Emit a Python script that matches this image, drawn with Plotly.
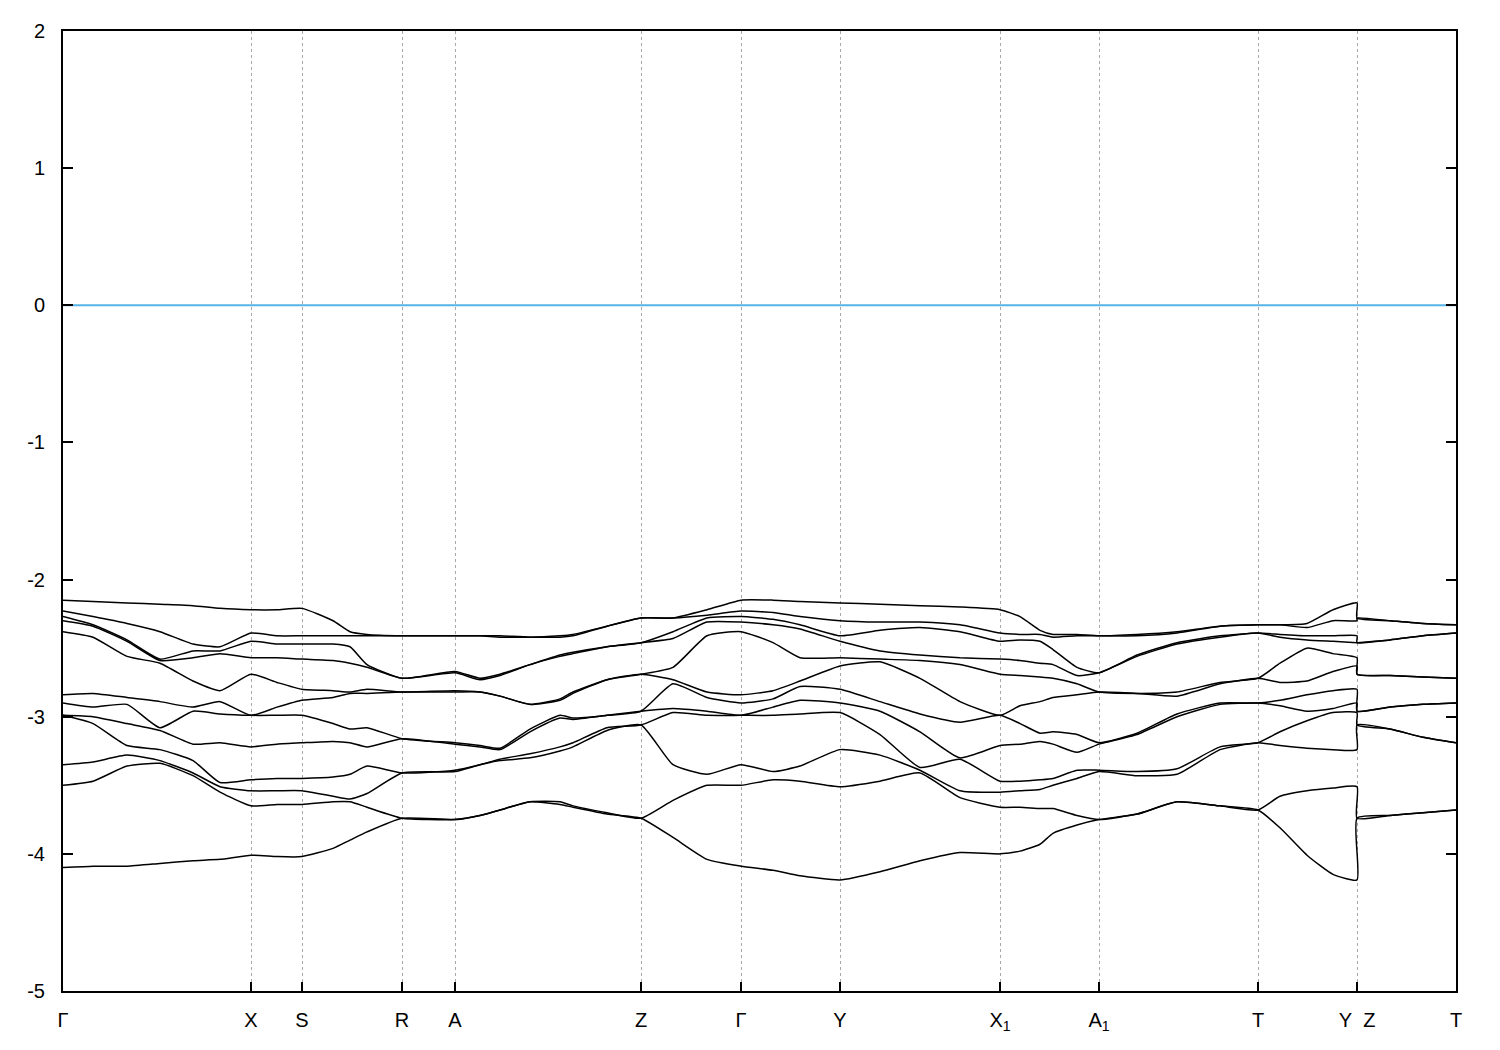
import plotly.graph_objects as go

# k-path coordinate of each sampled point (arbitrary path-length units)
k = [0.00, 0.30, 0.64, 0.97, 1.30, 1.57, 1.88, 2.14, 2.39, 2.70, 2.87, 3.04,
     3.39, 3.92, 4.17, 4.37, 4.67, 4.97, 5.10, 5.44, 5.78, 6.10, 6.44, 6.78,
     7.10, 7.37, 7.77, 8.17, 8.57, 8.97, 9.37, 9.57, 9.77, 9.90, 10.14, 10.36,
     10.74, 11.14, 11.57, 11.95, 12.17, 12.44, 12.70, 12.94, 12.94, 13.27,
     13.60, 13.93]

# energies (eV) at each sampled k, bands sorted from highest to lowest
energies = [
    [-2.15, -2.23, -2.27, -2.30, -2.38, -2.84, -2.90, -2.99, -2.99, -3.35, -3.50, -4.10],
    [-2.16, -2.27, -2.33, -2.34, -2.42, -2.83, -2.93, -3.00, -3.05, -3.33, -3.47, -4.09],
    [-2.17, -2.32, -2.44, -2.45, -2.56, -2.86, -2.91, -3.05, -3.21, -3.28, -3.36, -4.09],
    [-2.18, -2.38, -2.58, -2.59, -2.61, -2.89, -3.08, -3.10, -3.24, -3.32, -3.34, -4.07],
    [-2.19, -2.47, -2.52, -2.57, -2.74, -2.93, -2.96, -3.20, -3.32, -3.41, -3.43, -4.05],
    [-2.21, -2.49, -2.52, -2.54, -2.81, -2.89, -2.98, -3.19, -3.48, -3.51, -3.55, -4.04],
    [-2.22, -2.39, -2.45, -2.57, -2.69, -2.99, -2.99, -3.22, -3.46, -3.54, -3.65, -4.01],
    [-2.22, -2.41, -2.47, -2.57, -2.75, -2.93, -2.99, -3.20, -3.45, -3.54, -3.64, -4.02],
    [-2.21, -2.41, -2.47, -2.58, -2.80, -2.88, -2.99, -3.19, -3.45, -3.54, -3.64, -4.02],
    [-2.30, -2.41, -2.47, -2.59, -2.81, -2.86, -3.05, -3.18, -3.44, -3.58, -3.62, -3.96],
    [-2.38, -2.41, -2.49, -2.61, -2.82, -2.83, -3.09, -3.19, -3.42, -3.60, -3.62, -3.90],
    [-2.40, -2.41, -2.62, -2.64, -2.80, -2.83, -3.08, -3.22, -3.36, -3.56, -3.66, -3.84],
    [-2.41, -2.41, -2.72, -2.72, -2.82, -2.82, -3.16, -3.16, -3.41, -3.41, -3.74, -3.74],
    [-2.41, -2.41, -2.67, -2.68, -2.81, -2.82, -3.19, -3.20, -3.39, -3.40, -3.75, -3.75],
    [-2.41, -2.41, -2.72, -2.73, -2.82, -2.82, -3.21, -3.22, -3.35, -3.35, -3.72, -3.72],
    [-2.41, -2.42, -2.69, -2.70, -2.85, -2.85, -3.23, -3.24, -3.31, -3.32, -3.68, -3.68],
    [-2.42, -2.42, -2.62, -2.62, -2.91, -2.91, -3.09, -3.11, -3.27, -3.30, -3.62, -3.62],
    [-2.41, -2.42, -2.55, -2.56, -2.87, -2.88, -2.99, -3.01, -3.22, -3.25, -3.62, -3.64],
    [-2.40, -2.41, -2.53, -2.54, -2.82, -2.83, -3.01, -3.02, -3.19, -3.22, -3.65, -3.66],
    [-2.34, -2.34, -2.49, -2.49, -2.73, -2.73, -2.99, -2.99, -3.08, -3.10, -3.70, -3.71],
    [-2.28, -2.28, -2.46, -2.46, -2.69, -2.69, -2.96, -2.96, -3.06, -3.06, -3.74, -3.74],
    [-2.28, -2.28, -2.38, -2.43, -2.64, -2.73, -2.76, -2.94, -2.97, -3.35, -3.61, -3.88],
    [-2.22, -2.26, -2.28, -2.31, -2.41, -2.82, -2.86, -2.96, -2.99, -3.42, -3.50, -4.04],
    [-2.15, -2.23, -2.27, -2.31, -2.38, -2.84, -2.90, -2.99, -2.99, -3.35, -3.50, -4.09],
    [-2.15, -2.24, -2.29, -2.33, -2.46, -2.81, -2.87, -2.93, -2.99, -3.40, -3.46, -4.12],
    [-2.16, -2.27, -2.33, -2.36, -2.57, -2.74, -2.78, -2.88, -2.98, -3.36, -3.47, -4.16],
    [-2.17, -2.30, -2.41, -2.45, -2.57, -2.63, -2.80, -2.90, -2.97, -3.24, -3.51, -4.19],
    [-2.18, -2.31, -2.37, -2.52, -2.58, -2.60, -2.89, -2.96, -3.13, -3.28, -3.47, -4.13],
    [-2.19, -2.31, -2.35, -2.55, -2.59, -2.72, -2.98, -3.11, -3.37, -3.39, -3.41, -4.05],
    [-2.20, -2.33, -2.38, -2.57, -2.62, -2.89, -3.04, -3.30, -3.31, -3.54, -3.59, -3.99],
    [-2.22, -2.39, -2.45, -2.58, -2.69, -2.99, -2.99, -3.21, -3.47, -3.55, -3.66, -4.00],
    [-2.27, -2.40, -2.44, -2.59, -2.70, -2.92, -3.05, -3.20, -3.47, -3.54, -3.66, -3.98],
    [-2.37, -2.40, -2.45, -2.61, -2.71, -2.89, -3.12, -3.18, -3.46, -3.53, -3.67, -3.93],
    [-2.40, -2.42, -2.51, -2.62, -2.72, -2.86, -3.11, -3.20, -3.45, -3.50, -3.67, -3.85],
    [-2.40, -2.41, -2.64, -2.70, -2.76, -2.84, -3.13, -3.26, -3.39, -3.45, -3.72, -3.79],
    [-2.41, -2.41, -2.68, -2.68, -2.82, -2.82, -3.19, -3.20, -3.39, -3.40, -3.75, -3.75],
    [-2.40, -2.41, -2.55, -2.56, -2.83, -2.83, -3.12, -3.13, -3.40, -3.43, -3.71, -3.71],
    [-2.38, -2.39, -2.46, -2.47, -2.82, -2.85, -2.98, -3.00, -3.38, -3.42, -3.62, -3.62],
    [-2.34, -2.34, -2.41, -2.42, -2.75, -2.76, -2.90, -2.91, -3.22, -3.24, -3.65, -3.65],
    [-2.33, -2.33, -2.39, -2.39, -2.72, -2.72, -2.90, -2.90, -3.19, -3.19, -3.68, -3.68],
    [-2.33, -2.33, -2.40, -2.42, -2.61, -2.75, -2.88, -2.92, -3.11, -3.21, -3.58, -3.81],
    [-2.32, -2.35, -2.41, -2.44, -2.50, -2.74, -2.84, -2.96, -3.03, -3.23, -3.54, -4.01],
    [-2.22, -2.30, -2.41, -2.45, -2.54, -2.67, -2.81, -2.94, -2.97, -3.24, -3.52, -4.15],
    [-2.17, -2.30, -2.41, -2.46, -2.57, -2.63, -2.80, -2.90, -2.97, -3.24, -3.51, -4.19],
    [-2.28, -2.28, -2.46, -2.46, -2.69, -2.69, -2.96, -2.96, -3.06, -3.06, -3.74, -3.74],
    [-2.30, -2.30, -2.44, -2.44, -2.70, -2.70, -2.93, -2.93, -3.09, -3.09, -3.72, -3.72],
    [-2.32, -2.32, -2.41, -2.41, -2.71, -2.71, -2.91, -2.91, -3.15, -3.15, -3.70, -3.70],
    [-2.33, -2.33, -2.39, -2.39, -2.72, -2.72, -2.90, -2.90, -3.19, -3.19, -3.68, -3.68],
]

# high-symmetry points
kpt_pos = [0.00, 1.88, 2.39, 3.39, 3.92, 5.78, 6.78, 7.77, 9.37, 10.36, 11.95, 12.94, 13.93]
kpt_labels = ["Γ", "X", "S", "R", "A", "Z", "Γ", "Y", "X<sub>1</sub>", "A<sub>1</sub>",
              "T", "Y\u00a0\u00a0Z", "T"]

y_ticks = [-5, -4, -3, -2, -1, 0, 1, 2]
y_ticktext = ["-5", "-4", "-3", "-2", "-1", "0", "1", "2"]
fermi_level = 0.0

fig = go.Figure()
nb = len(energies[0])
for b in range(nb):
    fig.add_trace(go.Scatter(
        x=k, y=[row[b] for row in energies], mode="lines",
        line=dict(color="black", width=1.5, shape="spline", smoothing=0.5),
        showlegend=False, hoverinfo="skip"))

fig.add_trace(go.Scatter(
    x=[k[0], k[-1]], y=[fermi_level, fermi_level], mode="lines",
    line=dict(color="#56B4E9", width=2), showlegend=False, hoverinfo="skip"))

fig.update_layout(
    width=1492, height=1042,
    margin=dict(l=55, r=44, t=20, b=59),
    paper_bgcolor="white", plot_bgcolor="white",
    font=dict(family="Liberation Sans, Arial, sans-serif", size=20, color="black"),
)
fig.update_xaxes(
    range=[k[0], k[-1]], tickmode="array", tickvals=kpt_pos, ticktext=kpt_labels,
    ticks="inside", ticklen=9, tickwidth=1.5, tickcolor="black",
    showline=True, linecolor="black", linewidth=2, mirror=True,
    showgrid=True, gridcolor="#a8a8a8", griddash="dot", gridwidth=1,
    zeroline=False, ticklabelstandoff=10,
)
fig.update_yaxes(
    range=[-5, 2], tickmode="array", tickvals=y_ticks, ticktext=y_ticktext,
    ticks="inside", ticklen=10, tickwidth=1.5, tickcolor="black",
    showline=True, linecolor="black", linewidth=2, mirror="ticks",
    showgrid=False, zeroline=False, ticklabelstandoff=12,
)

fig.write_html("out.html")
